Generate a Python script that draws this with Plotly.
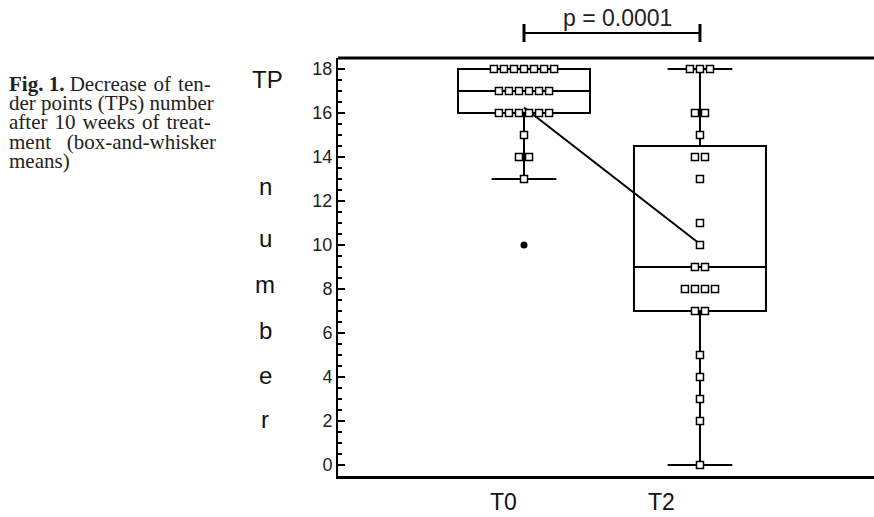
import numpy as np
import plotly.graph_objects as go

# ---------------- data ----------------
groups = ["T0", "T2"]
t0_values = [18]*7 + [17]*6 + [16]*6 + [15] + [14]*2 + [13] + [10]
t2_values = [18]*3 + [16]*2 + [15] + [14]*2 + [13] + [11] + [10] + [9]*2 + [8]*4 + [7]*2 + [5, 4, 3, 2, 0]
p_label = "p = 0.0001"
y_ticks = [0, 2, 4, 6, 8, 10, 12, 14, 16, 18]
y_label_letters = ["TP", "n", "u", "m", "b", "e", "r"]
HS = "\u200a"  # hair space for justification
caption_lines = [
    "<b>Fig. 1.</b> Decrease " + HS + "of " + HS + "ten-",
    "der points (TPs) number",
    "after " + HS + "10 " + HS + "weeks " + HS + "of " + HS + "treat-",
    "ment\u00a0\u00a0 (box-and-whisker",
    "means)",
]

# ---------------- geometry helpers (layout only) ----------------
W, H = 874, 517
ML, MR, MT, MB = 338, 0, 58, 41
PW, PH = W - ML - MR, H - MT - MB

def px_x(px):
    return (px - ML) / PW

def px_y(py):
    return (H - MB - py) / PH

def tukey(vals):
    v = np.sort(np.asarray(vals, dtype=float))
    n = len(v)
    med = np.median(v)
    half = n // 2
    lower = v[:half] if n % 2 == 0 else v[:half + 1]
    upper = v[half:]
    q1, q3 = np.median(lower), np.median(upper)
    iqr = q3 - q1
    lo_f = v[v >= q1 - 1.5 * iqr].min()
    hi_f = v[v <= q3 + 1.5 * iqr].max()
    return q1, med, q3, lo_f, hi_f

fig = go.Figure()
SPACING = 0.057
for gi, vals in enumerate([t0_values, t2_values]):
    q1, med, q3, lo, hi = tukey(vals)
    fig.add_trace(go.Box(
        x=[gi], q1=[q1], median=[med], q3=[q3], lowerfence=[lo], upperfence=[hi],
        width=0.75, whiskerwidth=0.49, boxpoints=False,
        line=dict(color="black", width=2), fillcolor="rgba(0,0,0,0)",
        showlegend=False, hoverinfo="skip",
    ))

# mean line
means = [float(np.mean(t0_values)), float(np.mean(t2_values))]
fig.add_trace(go.Scatter(x=[0, 1], y=means, mode="lines",
                         line=dict(color="black", width=2), showlegend=False, hoverinfo="skip"))

for gi, vals in enumerate([t0_values, t2_values]):
    q1, med, q3, lo, hi = tukey(vals)
    xs, ys, ox, oy = [], [], [], []
    uniq, counts = np.unique(vals, return_counts=True)
    for u, c in zip(uniq, counts):
        if u < lo or u > hi:
            ox += [gi] * c
            oy += [u] * c
            continue
        for i in range(c):
            xs.append(gi + (i - (c - 1) / 2) * SPACING)
            ys.append(u)
    fig.add_trace(go.Scatter(x=xs, y=ys, mode="markers",
                             marker=dict(symbol="square", size=7, color="white",
                                         line=dict(color="black", width=1.5)),
                             showlegend=False, hoverinfo="skip"))
    if ox:
        fig.add_trace(go.Scatter(x=ox, y=oy, mode="markers",
                                 marker=dict(symbol="circle", size=7, color="black"),
                                 showlegend=False, hoverinfo="skip"))

fig.update_layout(
    width=W, height=H,
    margin=dict(l=ML, r=MR, t=MT, b=MB, pad=0),
    paper_bgcolor="white", plot_bgcolor="white",
    showlegend=False,
    font=dict(family="Liberation Sans, Arial, sans-serif", color="#1a1a1a"),
    xaxis=dict(range=[-1.057, 1.989], showticklabels=False, ticks="", showgrid=False,
               zeroline=False, showline=True, linecolor="black", linewidth=3, fixedrange=True),
    yaxis=dict(range=[-0.5, 18.5], tickvals=y_ticks, ticks="inside", ticklen=7, tickwidth=2,
               tickcolor="black", showgrid=False, zeroline=False, showline=True,
               linecolor="black", linewidth=2, tickfont=dict(size=18, color="#222"),
               minor=dict(dtick=0.5, tick0=0, ticks="inside", ticklen=4, tickwidth=1.5,
                          tickcolor="black", showgrid=False),
               fixedrange=True),
)

# top frame line
fig.add_shape(type="line", xref="paper", yref="paper", x0=0, x1=1, y0=1, y1=1,
              line=dict(color="black", width=3))

# p-value bracket between the two groups
fig.add_shape(type="line", xref="x", yref="paper", x0=0, x1=1, y0=px_y(33), y1=px_y(33),
              line=dict(color="black", width=2))
for gx in [0, 1]:
    fig.add_shape(type="line", xref="x", yref="paper", x0=gx, x1=gx, y0=px_y(24), y1=px_y(42),
                  line=dict(color="black", width=3))
fig.add_annotation(text=p_label, xref="paper", yref="paper", x=px_x(617), y=px_y(18),
                   showarrow=False, font=dict(size=23, color="#222"), xanchor="center", yanchor="middle")

# x labels
for lbl, cx in zip(groups, [503, 661]):
    fig.add_annotation(text=lbl, xref="paper", yref="paper", x=px_x(cx), y=px_y(501.5),
                       showarrow=False, font=dict(size=23, color="#111"), xanchor="center", yanchor="middle")

# vertical y-label letters
for lbl, cy in zip(y_label_letters, [79, 186, 238, 284, 330, 375, 419]):
    fig.add_annotation(text=lbl, xref="paper", yref="paper", x=px_x(265 if lbl != "TP" else 267),
                       y=px_y(cy), showarrow=False, font=dict(size=24, color="#111"),
                       xanchor="center", yanchor="middle")

# caption
for i, line in enumerate(caption_lines):
    fig.add_annotation(text=line, xref="paper", yref="paper", x=px_x(7), y=px_y(84 + i * 19.2),
                       showarrow=False, xanchor="left", yanchor="middle",
                       font=dict(family="Liberation Serif, Times New Roman, serif", size=21, color="#222"))

fig.write_html("out.html", config={"displayModeBar": False},
               post_script="document.body.style.margin='0';document.body.style.overflow='hidden';")
